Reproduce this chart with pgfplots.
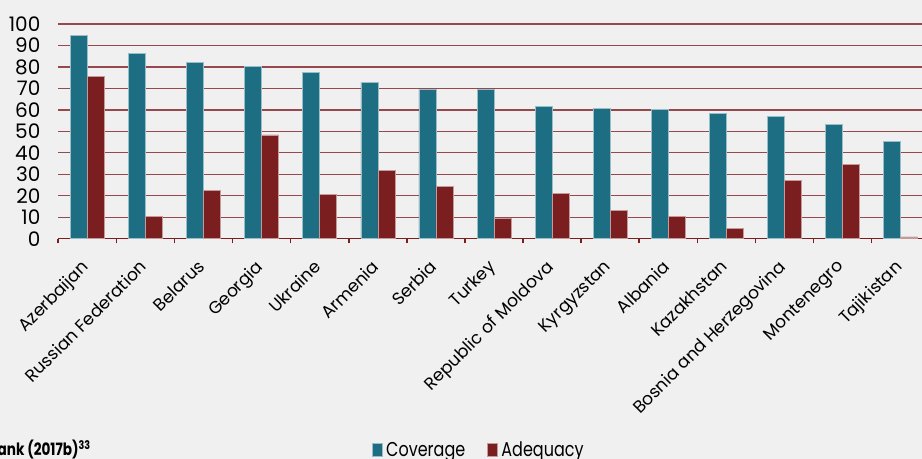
\documentclass[border=0pt]{standalone}
\usepackage{pgfplots}
\pgfplotsset{compat=1.18}
\usepackage{fontspec}
\setmainfont{Poppins}
\definecolor{cov}{RGB}{29,110,130}
\definecolor{adq}{RGB}{123,30,32}
\definecolor{bg}{RGB}{240,240,240}
\definecolor{gridc}{RGB}{150,72,76}
\begin{document}
\begin{tikzpicture}
\fill[bg] (-29.15pt,-110.15pt) rectangle (431.85pt,119.35pt);
\useasboundingbox (-29.15pt,-110.15pt) rectangle (431.85pt,119.35pt);
\begin{axis}[
  at={(0pt,0pt)}, anchor=south west,
  scale only axis, width=431.85pt, height=107.35pt,
  ybar=0pt, bar width=8.5pt,
  xmin=-0.5, xmax=14.366, ymin=0, ymax=100,
  separate axis lines,
  axis x line*=bottom, axis y line*=left,
  x axis line style={adq, line width=0.8pt, -},
  y axis line style={draw=none},
  xtick={0,...,14},
  xticklabels={Azerbaijan,Russian Federation,Belarus,Georgia,Ukraine,Armenia,Serbia,Turkey,Republic of Moldova,Kyrgyzstan,Albania,Kazakhstan,Bosnia and Herzegovina,Montenegro,Tajikistan},
  major x tick style={draw=none},
  minor xtick={-0.5,0.5,...,14.5},
  minor x tick style={adq, line width=0.8pt},
  minor tick length=2.4pt,
  tick align=outside,
  xticklabel style={anchor=north east, inner sep=0pt, font=\fontsize{8.6}{9}\selectfont, yshift=-5.5pt, xshift=-3.5pt, rotate=45},
  ytick={0,10,...,100},
  ymajorgrids, xmajorgrids=false,
  major grid style={color=gridc, line width=0.65pt},
  yticklabel style={font=\fontsize{10}{11}\selectfont, anchor=east, inner sep=0pt, xshift=-4.5pt},
  /pgf/number format/assume math mode=true,
  major y tick style={draw=none},
  legend style={at={(0.488,-0.989)}, anchor=center, draw=none, fill=none,
    font=\fontsize{10}{11}\selectfont, legend columns=2,
    /tikz/every even column/.append style={column sep=9pt}},
  legend image code/.code={\fill[#1] (0pt,-2.8pt) rectangle (4.8pt,3.8pt);},
  legend cell align=left,
]
\addplot[fill=cov, draw=cov!45!white, line width=0.3pt] coordinates {
(0,94.7) (1,86.2) (2,82.2) (3,80.4) (4,77.6) (5,72.7) (6,69.6) (7,69.4) (8,61.8) (9,60.7) (10,60.3) (11,58.4) (12,56.8) (13,53.3) (14,45.4)};
\addlegendentry{\scalebox{0.8}[1]{Coverage}}
\addplot[fill=adq, draw=adq!45!white, line width=0.3pt] coordinates {
(0,75.5) (1,10.4) (2,22.4) (3,48.3) (4,20.5) (5,31.9) (6,24.5) (7,9.6) (8,21.1) (9,13.2) (10,10.4) (11,4.8) (12,27.3) (13,34.7) (14,0.8)};
\addlegendentry{\scalebox{0.8}[1]{Adequacy}}
\end{axis}
\node[anchor=base east, inner sep=0pt, font=\bfseries\fontsize{8.5}{10}\selectfont] at (16.5pt,-108.4pt) {\scalebox{0.8}[1]{Source: World Bank (2017b)\textsuperscript{33}}};
\end{tikzpicture}
\end{document}
